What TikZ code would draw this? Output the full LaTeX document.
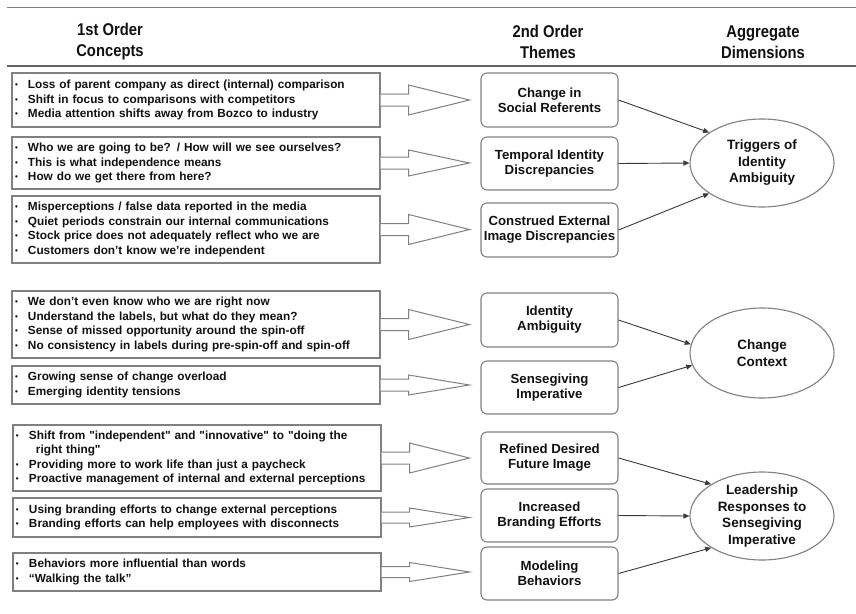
\documentclass[tikz,border=0pt]{standalone}
\usepackage{fontspec}
\setmainfont{Liberation Sans}[BoldFont={Liberation Sans Bold}]
\newfontfamily\headfont{Liberation Sans}[FakeStretch=0.87,BoldFont={Liberation Sans Bold}]
\newfontfamily\qf{Liberation Sans}[BoldFont={Liberation Sans Bold}]
\newcommand\sq[1]{{\qf"}#1{\qf"}}
\usetikzlibrary{shapes.geometric,arrows.meta,calc}
\definecolor{boxgray}{HTML}{808080}
\definecolor{linkgray}{HTML}{3A3A3A}
\definecolor{txt}{HTML}{111111}
\newcommand\bul{\makebox[13pt][l]{\raisebox{1pt}{\fontsize{8}{8}\selectfont•}}}
\newcommand\blockarr[4]{%
  \draw[barrow] ($(#1.east)+(0,-#3)$) -- ($(#1.east)+(28,-#3)$) -- ($(#1.east)+(28,-#4)$)
    -- ($(#1.east -| #2.west)+(-11,0)$) -- ($(#1.east)+(28,#4)$) -- ($(#1.east)+(28,#3)$)
    -- ($(#1.east)+(0,#3)$);}
\tikzset{
  concept/.style={draw=boxgray, line width=1.1pt, text width=362pt, inner xsep=3pt,
    inner ysep=0pt, align=left, text=txt,
    font=\bfseries\fontsize{11.8}{14.5}\selectfont},
  theme/.style={draw=boxgray, rounded corners=6pt, line width=1.1pt, minimum width=137pt,
    minimum height=53pt, align=center, inner sep=0pt, text=txt,
    font=\bfseries\fontsize{13.2}{15}\selectfont},
  dim/.style={ellipse, draw=boxgray, line width=1.1pt, minimum width=144pt,
    minimum height=88pt, align=center, inner sep=0pt, text=txt,
    font=\bfseries\fontsize{13.5}{16.5}\selectfont},
  head/.style={align=center, inner sep=0pt, text=txt,
    font=\headfont\bfseries\fontsize{17}{21}\selectfont},
  link/.style={draw=linkgray, line width=0.9pt, -{Triangle[length=6pt,width=5pt]}},
  barrow/.style={draw=boxgray, line width=1pt, fill=white, line join=miter}
}
\begin{document}
\begin{tikzpicture}[x=1pt,y=-1pt]
\useasboundingbox[fill=white] (0,0) rectangle (856,613);
% header
\draw[boxgray, line width=0.8pt] (7,7) -- (856,7);
\draw[linkgray!80, line width=2pt] (7,66) -- (856,66);
\node[head] (h1) at (110,42) {1st Order\\Concepts};
\node[head] (h2) at (548,42) {2nd Order\\Themes};
\node[head] (h3) at (763,42) {Aggregate\\Dimensions};
% first order concepts
\node[concept, minimum height=54pt] (b1) at (196,100) {\bul Loss of parent company as direct (internal) comparison\\\bul Shift in focus to comparisons with competitors\\\bul Media attention shifts away from Bozco to industry};
\node[concept, minimum height=52pt] (b2) at (196,163) {\bul Who we are going to be? / How will we see ourselves?\\\bul This is what independence means\\\bul How do we get there from here?};
\node[concept, minimum height=67pt] (b3) at (196,229.5) {\bul Misperceptions / false data reported in the media\\\bul Quiet periods constrain our internal communications\\\bul Stock price does not adequately reflect who we are\\\bul Customers don't know we're independent};
\node[concept, minimum height=67pt] (b4) at (196,324.5) {\bul We don't even know who we are right now\\\bul Understand the labels, but what do they mean?\\\bul Sense of missed opportunity around the spin-off\\\bul No consistency in labels during pre-spin-off and spin-off};
\node[concept, minimum height=38pt] (b5) at (196,385) {\bul Growing sense of change overload\\\bul Emerging identity tensions};
\node[concept, minimum height=66pt] (b6) at (197,458) {\bul Shift from \sq{independent} and \sq{innovative} to {\qf"}doing the\\\hspace*{20pt}right thing{\qf"}\\\bul Providing more to work life than just a paycheck\\\bul Proactive management of internal and external perceptions};
\node[concept, minimum height=39pt] (b7) at (197,517.5) {\bul Using branding efforts to change external perceptions\\\bul Branding efforts can help employees with disconnects};
\node[concept, minimum height=38pt] (b8) at (197,572) {\bul Behaviors more influential than words\\\bul ``Walking the talk''};
% second order themes
\node[theme, minimum height=54pt] (m1) at (549.5,100) {Change in\\Social Referents};
\node[theme] (m2) at (549.5,163.5) {Temporal Identity\\Discrepancies};
\node[theme, minimum height=54pt] (m3) at (549.5,230) {Construed External\\Image Discrepancies};
\node[theme, minimum height=54pt] (m4) at (549.5,320) {Identity\\Ambiguity};
\node[theme] (m5) at (549.5,387.5) {Sensegiving\\Imperative};
\node[theme, minimum height=52pt] (m6) at (549.5,458) {Refined Desired\\Future Image};
\node[theme] (m7) at (549.5,515.5) {Increased\\Branding Efforts};
\node[theme] (m8) at (549.5,573.5) {Modeling\\Behaviors};
% aggregate dimensions
\node[dim] (e1) at (762,163) {Triggers of\\Identity\\Ambiguity};
\node[dim, minimum height=90pt] (e2) at (762,353) {Change\\Context};
\node[dim] (e3) at (762,516) {Leadership\\Responses to\\Sensegiving\\Imperative};
% block arrows
\blockarr{b1}{m1}{6}{15}
\blockarr{b2}{m2}{6}{13}
\blockarr{b3}{m3}{6}{15}
\blockarr{b4}{m4}{6}{15}
\blockarr{b5}{m5}{6}{10}
\blockarr{b6}{m6}{6}{15}
\blockarr{b7}{m7}{5.5}{9.5}
\blockarr{b8}{m8}{5.5}{9.5}
% links
\draw[link] (m1.east) -- (e1.150);
\draw[link] (m2.east) -- (e1.west);
\draw[link] (m3.east) -- (e1.210);
\draw[link] (m4.east) -- (e2.173);
\draw[link] (m5.east) -- (e2.190);
\draw[link] (m6.east) -- (e3.148);
\draw[link] (m7.east) -- (e3.west);
\draw[link] (m8.east) -- (e3.212);
\end{tikzpicture}
\end{document}
